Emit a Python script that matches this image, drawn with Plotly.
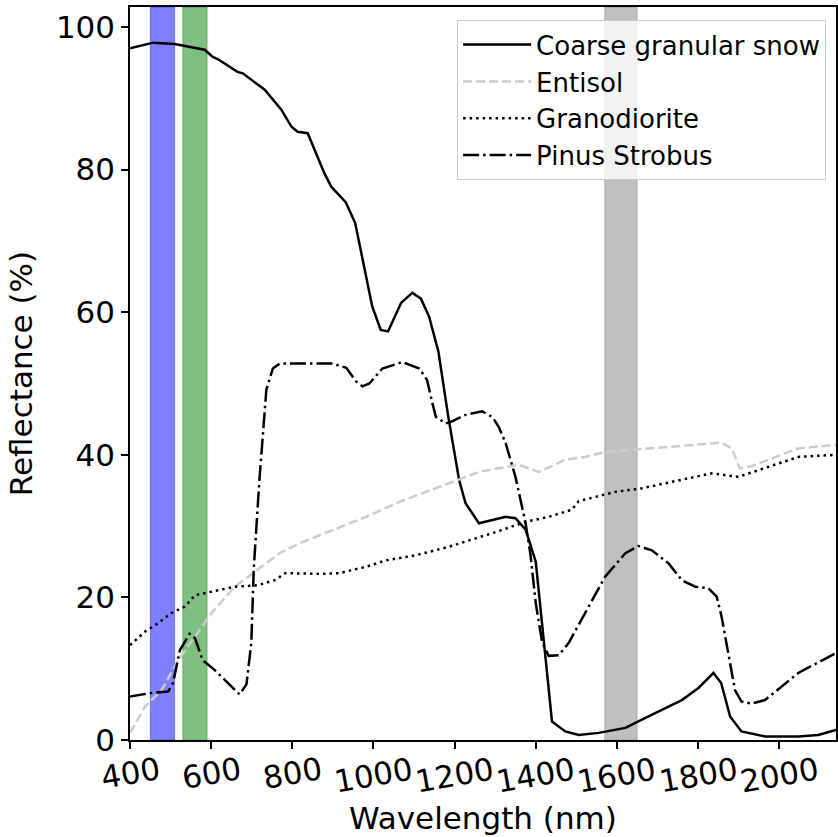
import plotly.graph_objects as go

# ---- data ----
snow_wl = [400, 457, 510, 584, 604, 616, 665, 678, 732, 773, 798, 813, 838, 879, 896, 932, 955,
           997, 1018, 1036, 1068, 1096, 1117, 1137, 1160, 1184, 1211, 1227, 1260, 1326, 1350, 1375,
           1400, 1440, 1473, 1506, 1555, 1621, 1678, 1760, 1801, 1838, 1857, 1879, 1907, 1965,
           2047, 2096, 2140]
snow_refl = [97.0, 97.8, 97.6, 96.8, 95.8, 95.5, 93.7, 93.5, 91.2, 88.4, 86.0, 85.3, 85.1, 79.5,
             77.6, 75.4, 72.5, 60.8, 57.5, 57.3, 61.3, 62.7, 61.9, 59.4, 54.5, 45.5, 36.5, 33.2,
             30.4, 31.3, 31.1, 29.5, 25.0, 2.6, 1.2, 0.7, 1.0, 1.7, 3.3, 5.6, 7.3, 9.4, 8.0, 3.3,
             1.2, 0.5, 0.5, 0.7, 1.4]

entisol_wl = [400, 437, 478, 519, 560, 601, 658, 711, 769, 818, 900, 982, 1064, 1145, 1211, 1260,
              1309, 1358, 1408, 1473, 1522, 1571, 1637, 1719, 1801, 1858, 1883, 1903, 1932, 1981,
              2047, 2140]
entisol_refl = [1.0, 4.7, 7.0, 11.2, 14.5, 17.8, 21.5, 23.8, 26.2, 27.6, 29.5, 31.3, 33.4, 35.1,
                36.5, 37.6, 38.1, 38.6, 37.6, 39.3, 39.7, 40.4, 40.7, 41.1, 41.5, 41.7, 40.9, 38.1,
                38.4, 39.5, 40.9, 41.4]

grano_wl = [400, 437, 470, 502, 535, 560, 601, 658, 715, 756, 783, 871, 916, 982, 1031, 1104,
            1186, 1309, 1375, 1432, 1489, 1506, 1596, 1662, 1735, 1834, 1899, 1989, 2047, 2140]
grano_refl = [13.3, 15.2, 16.4, 17.8, 18.7, 20.3, 20.8, 21.5, 21.7, 22.4, 23.4, 23.3, 23.4, 24.3,
              25.2, 25.9, 27.1, 29.3, 30.6, 31.3, 32.3, 33.5, 34.8, 35.3, 36.2, 37.4, 36.9, 38.6,
              39.7, 40.0]

pinus_wl = [400, 453, 494, 506, 523, 547, 560, 579, 609, 641, 670, 687, 699, 705, 719, 736, 752,
            769, 899, 933, 957, 973, 990, 1022, 1072, 1113, 1132, 1145, 1154, 1178, 1194, 1227,
            1268, 1293, 1309, 1326, 1350, 1375, 1387, 1400, 1416, 1432, 1457, 1481, 1522, 1571,
            1621, 1653, 1686, 1727, 1760, 1793, 1825, 1846, 1858, 1875, 1891, 1907, 1932, 1965,
            2047, 2140]
pinus_refl = [6.1, 6.6, 6.8, 8.0, 12.6, 14.9, 14.3, 11.2, 9.8, 8.0, 6.4, 7.8, 13.6, 24.0, 36.5,
              49.1, 52.1, 52.8, 52.8, 52.2, 50.3, 49.6, 50.0, 52.1, 53.0, 52.1, 50.5, 47.3, 45.3,
              44.4, 44.7, 45.6, 46.1, 45.3, 43.9, 41.6, 36.9, 30.4, 26.0, 19.2, 13.6, 11.8, 11.9,
              13.6, 17.8, 22.9, 26.2, 27.2, 26.6, 24.8, 22.4, 21.5, 21.3, 20.1, 17.3, 12.2, 7.0,
              5.4, 5.1, 5.6, 9.4, 12.2]

band_start = [450, 530, 1570]
band_end = [510, 590, 1650]
band_fill = ["rgba(0,0,255,0.5)", "rgba(0,128,0,0.5)", "rgba(128,128,128,0.5)"]
band_edge = ["rgba(0,0,200,0.35)", "rgba(0,100,0,0.35)", "rgba(100,100,100,0.35)"]

x_ticks = [400, 600, 800, 1000, 1200, 1400, 1600, 1800, 2000]
y_ticks = [0, 20, 40, 60, 80, 100]

FONT = "DejaVu Sans"

fig = go.Figure()
fig.add_trace(go.Scatter(x=snow_wl, y=snow_refl, mode="lines", name="Coarse granular snow",
                         line=dict(color="black", width=2.5)))
fig.add_trace(go.Scatter(x=entisol_wl, y=entisol_refl, mode="lines", name="Entisol",
                         line=dict(color="#cccccc", width=2.5, dash="9px,4px")))
fig.add_trace(go.Scatter(x=grano_wl, y=grano_refl, mode="lines", name="Granodiorite",
                         line=dict(color="black", width=2.5, dash="2.5px,4px")))
fig.add_trace(go.Scatter(x=pinus_wl, y=pinus_refl, mode="lines", name="Pinus Strobus",
                         line=dict(color="black", width=2.5, dash="16px,4px,2.5px,4px")))

for s, e, fc, ec in zip(band_start, band_end, band_fill, band_edge):
    fig.add_shape(type="rect", xref="x", yref="paper", x0=s, x1=e, y0=0, y1=1,
                  fillcolor=fc, line=dict(color=ec, width=1), layer="below")

# rotated, centred x tick labels
for t in x_ticks:
    fig.add_annotation(x=t, y=0, xref="x", yref="paper", text=str(t), showarrow=False,
                       textangle=-10, xanchor="center", yanchor="top", yshift=-8,
                       font=dict(size=31, family=FONT, color="black"))

fig.update_layout(
    width=838, height=837,
    margin=dict(l=130, r=0, t=7, b=97),
    paper_bgcolor="white", plot_bgcolor="white",
    font=dict(family=FONT, color="black"),
    showlegend=True,
    legend=dict(x=0.986, y=0.982, xanchor="right", yanchor="top",
                bgcolor="rgba(255,255,255,0.8)", bordercolor="#cccccc", borderwidth=1,
                font=dict(size=26, family=FONT), tracegroupgap=0, itemwidth=68),
    xaxis=dict(range=[400, 2140], tickvals=x_ticks, showticklabels=False,
               ticks="outside", ticklen=7, tickwidth=1.5, tickcolor="black",
               showline=True, linecolor="black", linewidth=1.5, mirror=True,
               showgrid=False, zeroline=False,
               title=dict(text="Wavelength (nm)", font=dict(size=31, family=FONT), standoff=60)),
    yaxis=dict(range=[0, 102.8], tickvals=y_ticks,
               tickfont=dict(size=31, family=FONT),
               ticks="outside", ticklen=7, tickwidth=1.5, tickcolor="black",
               showline=True, linecolor="black", linewidth=1.5, mirror=True,
               showgrid=False, zeroline=False,
               title=dict(text="Reflectance (%)", font=dict(size=31, family=FONT), standoff=14)),
)

fig.write_html("out.html")
